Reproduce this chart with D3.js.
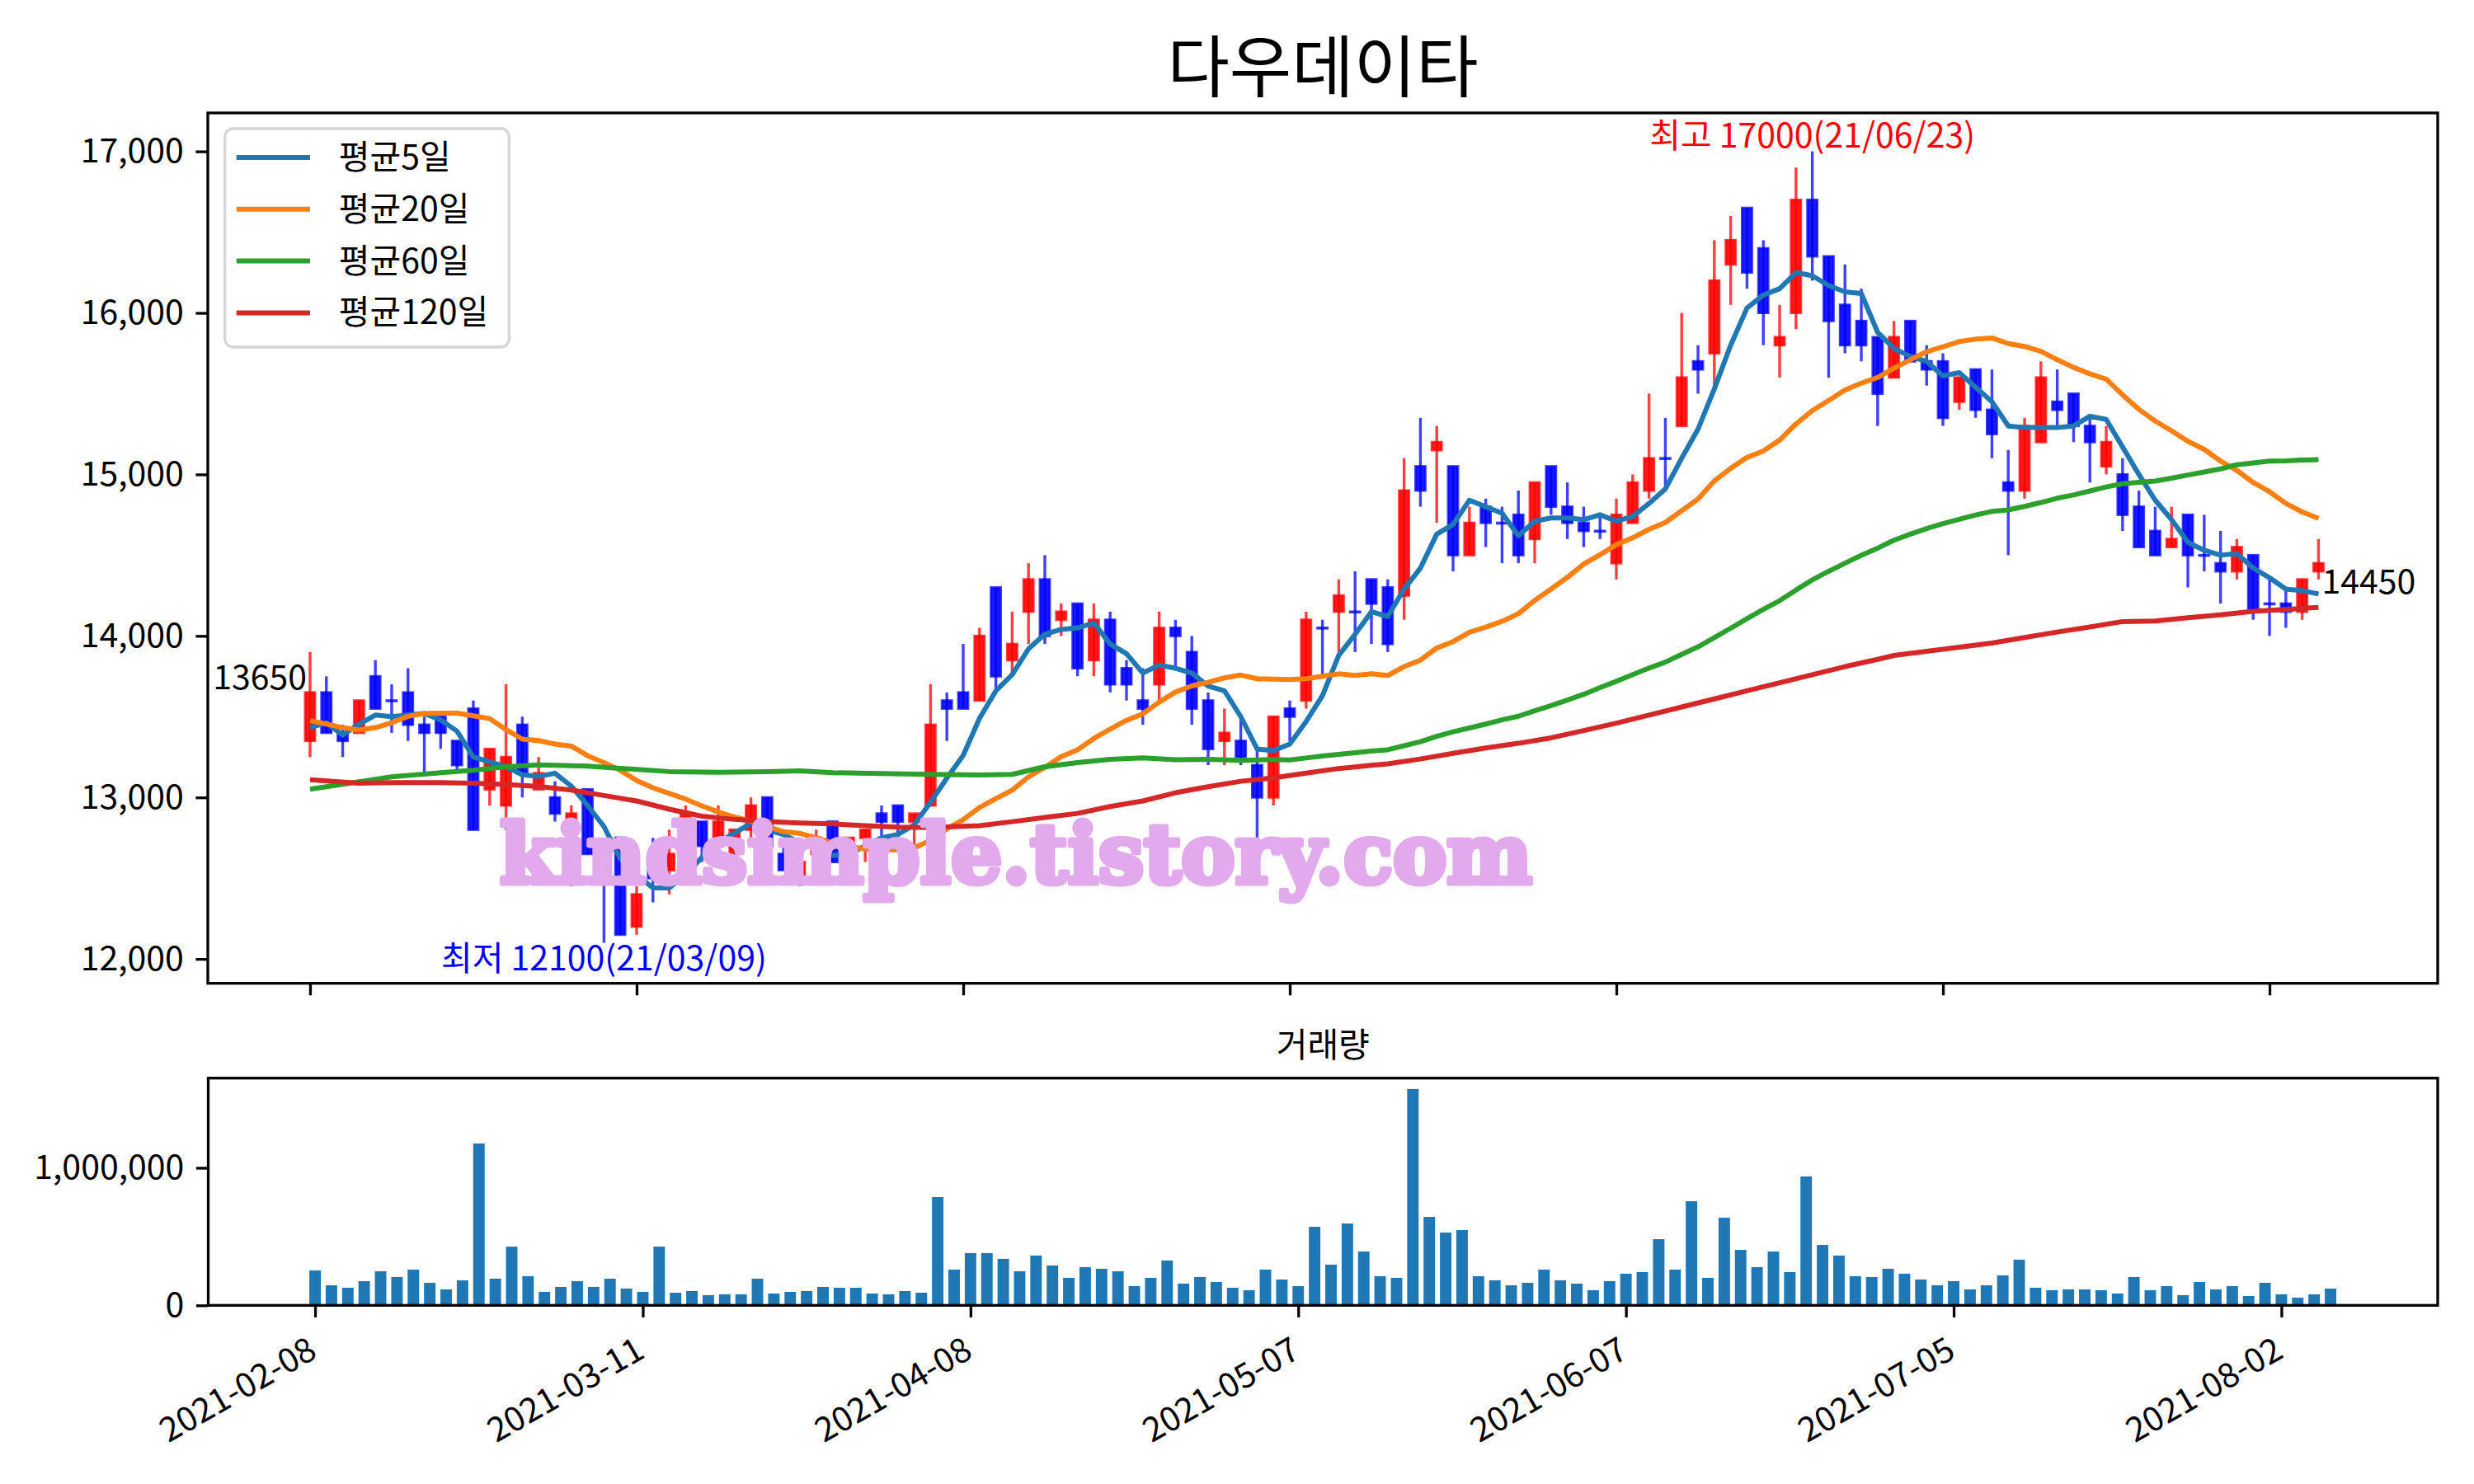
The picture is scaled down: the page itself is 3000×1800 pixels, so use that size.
<!DOCTYPE html>
<html>
<head>
<meta charset="utf-8">
<script src="https://cdn.jsdelivr.net/npm/d3@7"></script>
<style>
  body { margin: 0; background: #fff; }
  text { font-family: "Noto Sans CJK KR", "Noto Sans", sans-serif; }
</style>
</head>
<body>
<div id="chart"></div>
<script>
'use strict';

// trading days (index axis)
const dates = [
  '2021-02-08','2021-02-09','2021-02-10','2021-02-15','2021-02-16','2021-02-17','2021-02-18','2021-02-19','2021-02-22','2021-02-23','2021-02-24','2021-02-25','2021-02-26',
  '2021-03-02','2021-03-03','2021-03-04','2021-03-05','2021-03-08','2021-03-09','2021-03-10','2021-03-11','2021-03-12','2021-03-15','2021-03-16','2021-03-17','2021-03-18','2021-03-19','2021-03-22','2021-03-23','2021-03-24','2021-03-25','2021-03-26','2021-03-29','2021-03-30','2021-03-31',
  '2021-04-01','2021-04-02','2021-04-05','2021-04-06','2021-04-07','2021-04-08','2021-04-09','2021-04-12','2021-04-13','2021-04-14','2021-04-15','2021-04-16','2021-04-19','2021-04-20','2021-04-21','2021-04-22','2021-04-23','2021-04-26','2021-04-27','2021-04-28','2021-04-29','2021-04-30',
  '2021-05-03','2021-05-04','2021-05-06','2021-05-07','2021-05-10','2021-05-11','2021-05-12','2021-05-13','2021-05-14','2021-05-17','2021-05-18','2021-05-20','2021-05-21','2021-05-24','2021-05-25','2021-05-26','2021-05-27','2021-05-28','2021-05-31',
  '2021-06-01','2021-06-02','2021-06-03','2021-06-04','2021-06-07','2021-06-08','2021-06-09','2021-06-10','2021-06-11','2021-06-14','2021-06-15','2021-06-16','2021-06-17','2021-06-18','2021-06-21','2021-06-22','2021-06-23','2021-06-24','2021-06-25','2021-06-28','2021-06-29','2021-06-30',
  '2021-07-01','2021-07-02','2021-07-05','2021-07-06','2021-07-07','2021-07-08','2021-07-09','2021-07-12','2021-07-13','2021-07-14','2021-07-15','2021-07-16','2021-07-19','2021-07-20','2021-07-21','2021-07-22','2021-07-23','2021-07-26','2021-07-27','2021-07-28','2021-07-29','2021-07-30',
  '2021-08-02','2021-08-03','2021-08-04','2021-08-05'
];

const opens = [
  13350,13650,13400,13400,13750,13600,13650,13450,13500,13350,
  13550,13050,12950,13450,13050,13000,12700,13050,12700,12750,
  12200,12550,12550,12650,12850,12700,12650,12800,13000,12650,
  12500,12650,12850,12600,12750,12900,12950,12850,12950,13600,
  13650,13600,14300,13850,14150,14350,14100,14200,13850,14100,
  13800,13600,13700,14050,13900,13600,13350,13350,13200,13000,
  13550,13600,14050,14150,14150,14350,14300,14250,15050,15150,
  15050,14500,14800,14700,14750,14600,15050,14800,14700,14650,
  14450,14700,14900,15100,15300,15700,15750,16300,16650,16400,
  15800,16000,16700,16350,16050,15950,15850,15600,15950,15700,
  15700,15450,15650,15400,14950,14900,15200,15450,15500,15300,
  15050,15000,14800,14650,14550,14750,14500,14450,14400,14500,
  14200,14200,14150,14400
];
const highs = [
  13900,13750,13450,13600,13850,13700,13800,13500,13500,13350,
  13600,13300,13700,13500,13250,13100,12950,13050,12750,12750,
  12450,12750,12800,12950,12850,12950,12800,13000,13000,12750,
  12650,12800,12850,12750,12800,12950,12950,12900,13700,13650,
  13950,14050,14300,14150,14450,14500,14200,14200,14200,14150,
  13850,13800,14150,14100,14000,13650,13550,13500,13300,13500,
  13600,14150,14100,14350,14400,14350,14350,15100,15350,15300,
  15050,14800,14850,14800,14900,14950,15050,14950,14800,14750,
  14850,15000,15500,15350,16000,15800,16450,16600,16650,16450,
  16050,16900,17000,16350,16300,16150,15850,15950,15950,15800,
  15750,15600,15650,15650,15150,15350,15700,15650,15500,15350,
  15300,15100,14900,14800,14800,14750,14750,14650,14600,14500,
  14350,14300,14350,14600
];
const lows = [
  13250,13400,13250,13400,13550,13400,13350,13150,13300,13150,
  12800,12950,12800,13000,13050,12850,12450,12650,12100,12150,
  12150,12350,12400,12600,12600,12650,12550,12750,12700,12550,
  12450,12600,12600,12550,12600,12750,12750,12700,12950,13350,
  13550,13600,13650,13750,13950,13950,14000,13750,13750,13650,
  13600,13450,13600,13800,13450,13200,13200,13200,12700,12950,
  13350,13550,13750,13900,13900,13950,13900,14100,14800,14700,
  14400,14500,14550,14450,14450,14450,14750,14600,14550,14600,
  14350,14700,14850,14900,15300,15500,15550,16050,16150,15800,
  15600,15900,16200,15600,15750,15700,15300,15600,15700,15550,
  15300,15400,15350,15100,14500,14850,15200,15300,15200,14950,
  15000,14650,14550,14500,14550,14300,14400,14200,14350,14100,
  14000,14050,14100,14350
];
const closes = [
  13650,13400,13350,13600,13550,13600,13450,13400,13400,13200,
  12800,13300,13250,13150,13150,12900,12900,12650,12500,12150,
  12400,12500,12650,12900,12700,12850,12800,12950,12700,12550,
  12600,12750,12600,12750,12800,12850,12850,12900,13450,13550,
  13550,14000,13750,13950,14350,14000,14150,13800,14100,13700,
  13700,13550,14050,14000,13550,13300,13400,13250,13000,13500,
  13500,14100,14050,14250,14150,14200,13950,14900,14900,15200,
  14500,14700,14700,14700,14500,14950,14800,14700,14650,14650,
  14750,14950,15100,15100,15600,15650,16200,16450,16250,16000,
  15850,16700,16350,15950,15800,15800,15500,15850,15700,15650,
  15350,15600,15400,15250,14900,15300,15600,15400,15300,15200,
  15200,14750,14550,14500,14600,14500,14500,14400,14550,14150,
  14200,14150,14350,14450
];
const volumes = [
  254000,146000,128000,176000,248000,206000,260000,164000,116000,182000,
  1177000,194000,427000,212000,98000,134000,176000,134000,194000,122000,
  98000,427000,92000,104000,74000,80000,80000,194000,86000,98000,
  104000,134000,128000,128000,86000,80000,104000,92000,787000,260000,
  380000,380000,338000,248000,362000,290000,200000,278000,266000,248000,
  140000,200000,326000,158000,206000,170000,128000,110000,260000,188000,
  140000,571000,296000,595000,391000,212000,200000,1573000,643000,529000,
  547000,212000,182000,146000,164000,260000,182000,158000,110000,176000,
  230000,242000,481000,260000,757000,200000,637000,403000,278000,391000,
  242000,937000,439000,362000,212000,206000,266000,230000,188000,146000,
  176000,116000,146000,218000,332000,128000,110000,116000,116000,110000,
  86000,206000,110000,140000,74000,170000,116000,140000,68000,164000,
  80000,56000,80000,122000
];

// moving-average points that need closes older than the first candle,
// read off the chart
const ma5Head = [13432, 13463, 13386, 13454];
const ma20Head = [13476, 13454, 13432, 13417, 13432, 13463, 13502, 13519, 13522, 13522,
                  13505, 13488, 13420, 13361, 13352, 13330, 13318, 13258, 13216];
const ma60Head = [
  [0,13051],[5,13127],[8,13153],[10,13168],[12,13190],[14,13202],[17,13194],[19,13180],
  [22,13160],[25,13156],[28,13160],[30,13165],[32,13153],[35,13148],[38,13143],[41,13139],
  [43,13143],[45,13190],[47,13216],[49,13236],[51,13245],[53,13233],[55,13236],[57,13230]
];
const ma120Pts = [
  [0,13109],[3,13088],[5,13092],[8,13092],[10,13088],[12,13080],[14,13068],[16,13046],
  [18,13012],[20,12978],[22,12927],[24,12884],[26,12864],[28,12850],[30,12842],[32,12836],
  [34,12825],[36,12816],[38,12814],[41,12825],[43,12850],[45,12876],[47,12901],[49,12944],
  [51,12978],[53,13029],[55,13066],[57,13100],[59,13121],[61,13150],[63,13179],[65,13199],
  [66,13208],[68,13238],[70,13273],[72,13306],[74,13335],[76,13369],[78,13414],[80,13460],
  [82,13510],[84,13560],[86,13610],[88,13660],[90,13710],[92,13760],[94,13810],[96,13855],
  [97,13879],[99,13905],[101,13930],[103,13956],[105,13990],[107,14024],[109,14055],
  [111,14089],[113,14092],[115,14113],[117,14130],[119,14152],[121,14164],[123,14177]
];

const priceTicks = [12000, 13000, 14000, 15000, 16000, 17000];
const volTicks = [0, 1000000];
const dateTicks = [0, 20, 40, 60, 80, 100, 120];
const seriesNames = ['평균5일', '평균20일', '평균60일', '평균120일'];
const seriesColors = ['#1f77b4', '#ff7f0e', '#2ca02c', '#d62728'];
const title = '다우데이타';
const volTitle = '거래량';
const watermark = 'kindsimple.tistory.com';

const W = 3000, H = 1800;
const FS = 41;
const price = {left: 252, right: 2956, top: 137, bottom: 1192.7};
const vol = {left: 252.5, right: 2956, top: 1307.7, bottom: 1583.3};

const svg = d3.select('#chart').append('svg')
  .attr('width', W).attr('height', H);
svg.append('rect').attr('width', W).attr('height', H).attr('fill', '#fff');

const x = d3.scaleLinear().domain([-6.26, 130.3]).range([price.left, price.right]);
const y = d3.scaleLinear().domain([11849, 17238]).range([price.bottom, price.top]);
const xv = d3.scaleLinear().domain([-6.52, 129.54]).range([vol.left, vol.right]);
const yv = d3.scaleLinear().domain([0, 1652000]).range([vol.bottom, vol.top]);

// title
svg.append('text')
  .attr('x', (price.left + price.right) / 2)
  .attr('y', 111)
  .attr('text-anchor', 'middle')
  .style('font-size', '82px')
  .text(title);

svg.append('defs').append('clipPath').attr('id', 'clipP')
  .append('rect')
  .attr('x', price.left).attr('y', price.top)
  .attr('width', price.right - price.left).attr('height', price.bottom - price.top);

const plot = svg.append('g').attr('clip-path', 'url(#clipP)');

// candles
const idx = d3.range(dates.length);
const color = i => closes[i] > opens[i] ? '#ff0000' : '#0000ff';
const bodyW = 0.6 * (x(1) - x(0));

plot.append('g').selectAll('line')
  .data(idx)
  .join('line')
  .attr('x1', i => x(i)).attr('x2', i => x(i))
  .attr('y1', i => y(highs[i])).attr('y2', i => y(lows[i]))
  .attr('stroke', color)
  .attr('stroke-opacity', 0.75)
  .attr('stroke-width', 3.4);

plot.append('g').selectAll('rect')
  .data(idx)
  .join('rect')
  .attr('x', i => x(i) - bodyW / 2)
  .attr('width', bodyW)
  .attr('y', i => y(Math.max(opens[i], closes[i])))
  .attr('height', i => Math.max(Math.abs(y(opens[i]) - y(closes[i])), 0.6))
  .attr('fill', color)
  .attr('fill-opacity', 0.9)
  .attr('stroke', color)
  .attr('stroke-opacity', 0.75)
  .attr('stroke-width', 3);

// moving average lines: rolling means of the closes where the window fits
const rolling = (n, head) => idx.map(i => [i, i < n - 1 ? head[i] : d3.mean(closes.slice(i - n + 1, i + 1))]);
const ma5 = rolling(5, ma5Head);
const ma20 = rolling(20, ma20Head);
const ma60 = ma60Head.concat(idx.filter(i => i >= 59).map(i => [i, d3.mean(closes.slice(i - 59, i + 1))]));
const maSeries = [ma5, ma20, ma60, ma120Pts];

const line = d3.line().x(d => x(d[0])).y(d => y(d[1]));
plot.append('g').selectAll('path')
  .data(maSeries)
  .join('path')
  .attr('d', line)
  .attr('fill', 'none')
  .attr('stroke', (d, k) => seriesColors[k])
  .attr('stroke-width', 6)
  .attr('stroke-linejoin', 'round');

// first / last close labels
svg.append('text')
  .attr('x', x(0) - 4)
  .attr('y', y(closes[0]) - 4)
  .attr('text-anchor', 'end')
  .style('font-size', FS + 'px')
  .text(closes[0]);

const last = closes.length - 1;
svg.append('text')
  .attr('x', x(last) + 4)
  .attr('y', y(closes[last]) + 37)
  .style('font-size', FS + 'px')
  .text(closes[last]);

// high / low annotations
const shortDate = s => s.slice(2).replace(/-/g, '/');
const hiI = d3.maxIndex(highs), loI = d3.minIndex(lows);
svg.append('text')
  .attr('x', x(hiI))
  .attr('y', y(highs[hiI]) - 5)
  .attr('text-anchor', 'middle')
  .attr('fill', '#ff0000')
  .style('font-size', FS + 'px')
  .text('최고 ' + highs[hiI] + '(' + shortDate(dates[hiI]) + ')');

svg.append('text')
  .attr('x', x(loI))
  .attr('y', y(lows[loI]) + 33)
  .attr('text-anchor', 'middle')
  .attr('fill', '#0000ff')
  .style('font-size', FS + 'px')
  .text('최저 ' + lows[loI] + '(' + shortDate(dates[loI]) + ')');

// watermark
svg.append('text')
  .attr('x', 606)
  .attr('y', 1071)
  .attr('textLength', 1252)
  .attr('lengthAdjust', 'spacingAndGlyphs')
  .attr('fill', '#e2a9ec')
  .attr('stroke', '#e2a9ec')
  .attr('stroke-width', 7)
  .attr('stroke-linejoin', 'round')
  .style('font-family', '"DejaVu Serif", serif')
  .style('font-weight', 'bold')
  .style('font-size', '100px')
  .text(watermark);

// price axes
const yAxis = svg.append('g')
  .attr('transform', 'translate(' + price.left + ',0)')
  .call(d3.axisLeft(y).tickValues(priceTicks).tickFormat(d3.format(',')).tickSize(14.6).tickPadding(14.6));
const xAxisTop = svg.append('g')
  .attr('transform', 'translate(0,' + price.bottom + ')')
  .call(d3.axisBottom(x).tickValues(dateTicks).tickFormat('').tickSize(14.6));

// legend
const legend = svg.append('g');
legend.append('rect')
  .attr('x', 272.7).attr('y', 156)
  .attr('width', 344.6).attr('height', 265)
  .attr('rx', 10)
  .attr('fill', '#fff').attr('fill-opacity', 0.8)
  .attr('stroke', '#d6d6d6').attr('stroke-width', 3.3);
seriesNames.forEach((name, k) => {
  const ly = 191 + k * 62.8;
  legend.append('line')
    .attr('x1', 286.7).attr('x2', 376)
    .attr('y1', ly).attr('y2', ly)
    .attr('stroke', seriesColors[k]).attr('stroke-width', 6);
  legend.append('text')
    .attr('x', 410.7).attr('y', ly + 14)
    .style('font-size', FS + 'px')
    .text(name);
});

// volume
svg.append('text')
  .attr('x', (vol.left + vol.right) / 2)
  .attr('y', vol.top - 26)
  .attr('text-anchor', 'middle')
  .style('font-size', FS + 'px')
  .text(volTitle);

const barW = 0.7 * (xv(1) - xv(0));
svg.append('g').selectAll('rect')
  .data(idx)
  .join('rect')
  .attr('x', i => xv(i) - barW / 2)
  .attr('width', barW)
  .attr('y', i => yv(volumes[i]))
  .attr('height', i => yv(0) - yv(volumes[i]))
  .attr('fill', '#1f77b4');

const yvAxis = svg.append('g')
  .attr('transform', 'translate(' + vol.left + ',0)')
  .call(d3.axisLeft(yv).tickValues(volTicks).tickFormat(d3.format(',')).tickSize(14.6).tickPadding(14.6));
const xvAxis = svg.append('g')
  .attr('transform', 'translate(0,' + vol.bottom + ')')
  .call(d3.axisBottom(xv).tickValues(dateTicks).tickFormat(i => dates[i]).tickSize(14.6));

xvAxis.selectAll('text')
  .attr('x', 4).attr('y', 62).attr('dy', null)
  .attr('text-anchor', 'end')
  .attr('transform', 'rotate(-30,4,62)');

[yAxis, xAxisTop, yvAxis, xvAxis].forEach(g => {
  g.select('.domain').remove();
  g.selectAll('.tick line').attr('stroke', '#000').attr('stroke-width', 3.3);
  g.selectAll('text').style('font-size', FS + 'px').attr('fill', '#000')
    .style('font-family', '"Noto Sans CJK KR", sans-serif');
});

// frames
[price, vol].forEach(b => {
  svg.append('rect')
    .attr('x', b.left).attr('y', b.top)
    .attr('width', b.right - b.left).attr('height', b.bottom - b.top)
    .attr('fill', 'none').attr('stroke', '#000').attr('stroke-width', 3.3);
});
</script>
</body>
</html>
